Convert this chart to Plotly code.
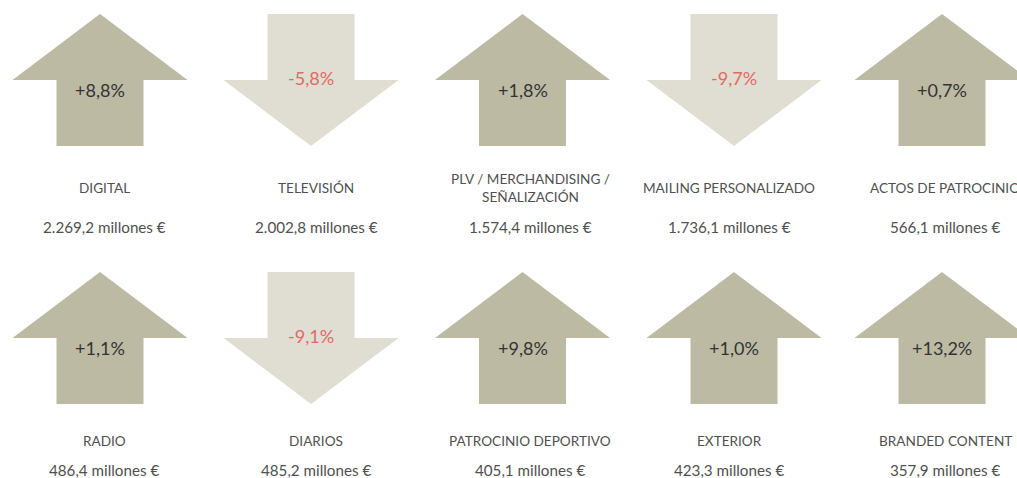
import plotly.graph_objects as go

categories = ["DIGITAL", "TELEVISIÓN", "PLV / MERCHANDISING /<br>SEÑALIZACIÓN", "MAILING PERSONALIZADO", "ACTOS DE PATROCINIO",
              "RADIO", "DIARIOS", "PATROCINIO DEPORTIVO", "EXTERIOR", "BRANDED CONTENT"]
changes = [8.8, -5.8, 1.8, -9.7, 0.7, 1.1, -9.1, 9.8, 1.0, 13.2]
values = [2269.2, 2002.8, 1574.4, 1736.1, 566.1, 486.4, 485.2, 405.1, 423.3, 357.9]

W, H = 1017, 478
UP_COLOR = "#bdbaa3"
DOWN_COLOR = "#e0ddd2"
TXT = "#505050"
RED = "#e06a64"
FONT = "Lato"

arrow_cx = [100, 311, 522.5, 734, 942]
text_cx = [104, 316, 530, 729, 945]
row_tops = [14, 272]
label_y = [(188, 227), (441, 470)]
head_h, total_h, head_hw, shaft_hw = 66, 132, 87.5, 43.5


def fmt_pct(v):
    s = f"{abs(v):.1f}".replace(".", ",")
    return ("+" if v >= 0 else "-") + s + "%"


def fmt_val(v):
    whole, dec = f"{v:.1f}".split(".")
    whole = f"{int(whole):,}".replace(",", ".")
    return f"{whole},{dec} millones €"


fig = go.Figure()
annotations = []
for i, (cat, ch, val) in enumerate(zip(categories, changes, values)):
    r, c = divmod(i, 5)
    cx = arrow_cx[c]
    tx = text_cx[c]
    y0 = row_tops[r]
    if ch >= 0:
        xs = [cx, cx + head_hw, cx + shaft_hw, cx + shaft_hw, cx - shaft_hw, cx - shaft_hw, cx - head_hw, cx]
        ys = [y0, y0 + head_h, y0 + head_h, y0 + total_h, y0 + total_h, y0 + head_h, y0 + head_h, y0]
        color, tcol, ty = UP_COLOR, "#333333", y0 + 76
    else:
        xs = [cx - shaft_hw, cx + shaft_hw, cx + shaft_hw, cx + head_hw, cx, cx - head_hw, cx - shaft_hw, cx - shaft_hw]
        ys = [y0, y0, y0 + head_h, y0 + head_h, y0 + total_h, y0 + head_h, y0 + head_h, y0]
        color, tcol, ty = DOWN_COLOR, RED, y0 + 64
    fig.add_trace(go.Scatter(x=xs, y=ys, fill="toself", fillcolor=color, mode="lines",
                             line=dict(width=0, color=color), hoverinfo="skip", showlegend=False))
    annotations.append(dict(x=cx, y=ty, text=fmt_pct(ch), showarrow=False,
                            font=dict(family=FONT, size=18, color=tcol),
                            xanchor="center", yanchor="middle"))
    annotations.append(dict(x=tx, y=label_y[r][0], text=cat, showarrow=False,
                            font=dict(family=FONT, size=13.6, color=TXT),
                            xanchor="center", yanchor="middle"))
    annotations.append(dict(x=tx, y=label_y[r][1], text=fmt_val(val), showarrow=False,
                            font=dict(family=FONT, size=15.2, color=TXT),
                            xanchor="center", yanchor="middle"))

fig.update_layout(
    width=W, height=H, margin=dict(l=0, r=0, t=0, b=0),
    paper_bgcolor="white", plot_bgcolor="white",
    xaxis=dict(range=[0, W], visible=False, fixedrange=True),
    yaxis=dict(range=[H, 0], visible=False, fixedrange=True),
    annotations=annotations,
)
fig.write_html("out.html", config={"displayModeBar": False},
               post_script="document.body.style.margin='0px';document.body.style.overflow='hidden';")
